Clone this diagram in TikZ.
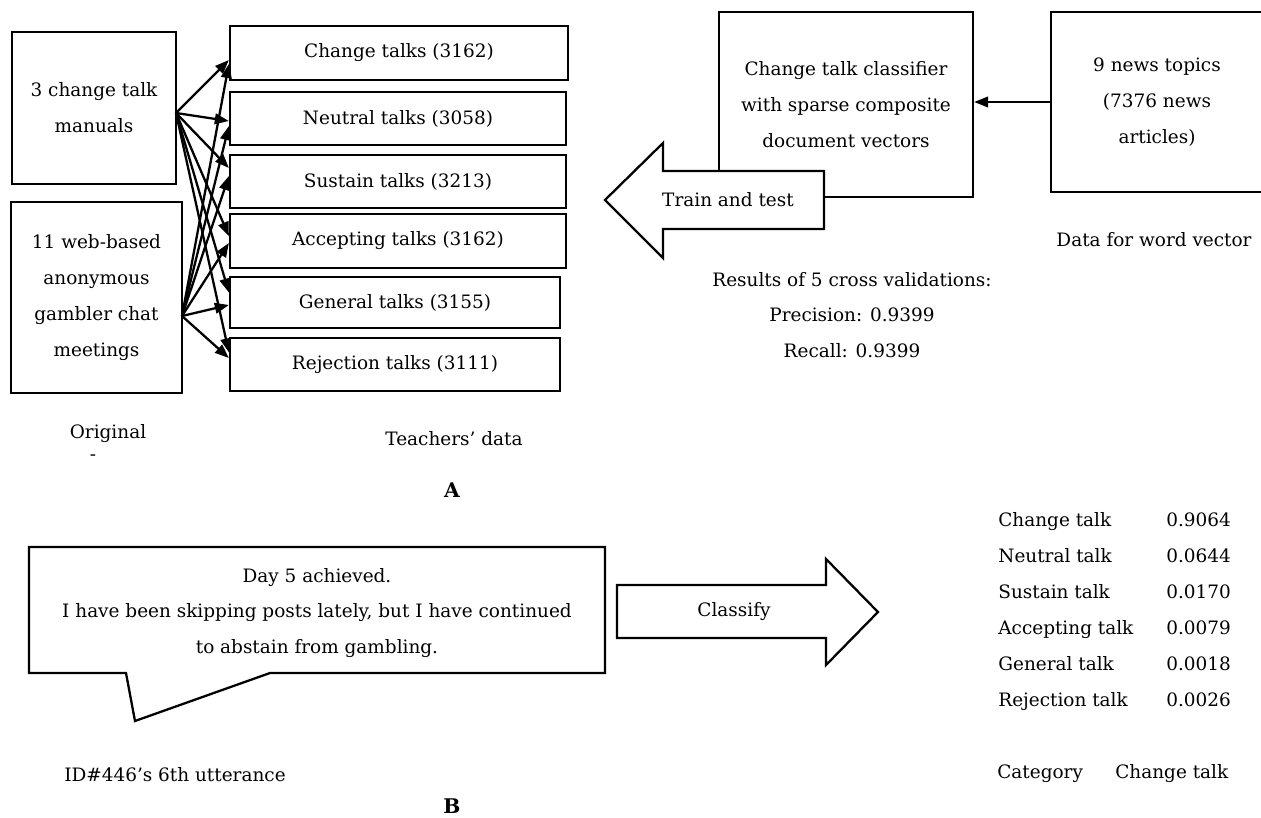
\documentclass[tikz,border=0pt]{standalone}
\usepackage{fontspec}
\setmainfont{DejaVu Serif}
\usetikzlibrary{arrows.meta, positioning, calc}

\begin{document}
\begin{tikzpicture}[
  x=0.02cm, y=-0.02cm,
  font=\fontsize{10.5}{20.4}\selectfont,
  box/.style={draw,line width=1.3pt,align=center,inner sep=0pt},
  lbl/.style={align=center,inner sep=0pt},
  row/.style={anchor=base west,inner sep=0pt},
  arrow/.style={-{Triangle[length=8pt,width=6pt]},line width=1.3pt},
  bigarrow/.style={draw,line width=1.3pt,fill=white,line join=miter}]
  \useasboundingbox (0,0) rectangle (1261,818);
  % part A: sources and teachers' data
  \node[box,minimum width=3.28cm,minimum height=3.04cm] (man) at (94,108) {3 change talk\\manuals};
  \node[box,minimum width=3.42cm,minimum height=3.82cm] (web) at (96.5,297.5) {11 web-based\\anonymous\\gambler chat\\meetings};
  \node[box,minimum width=6.76cm,minimum height=1.08cm] (ct) at (399,53) {Change talks (3162)};
  \node[box,minimum width=6.72cm,minimum height=1.06cm] (nt) at (398,118.5) {Neutral talks (3058)};
  \node[box,minimum width=6.72cm,minimum height=1.06cm] (st) at (398,181.5) {Sustain talks (3213)};
  \node[box,minimum width=6.72cm,minimum height=1.08cm] (at) at (398,241) {Accepting talks (3162)};
  \node[box,minimum width=6.6cm,minimum height=1.02cm] (gt) at (395,302.5) {General talks (3155)};
  \node[box,minimum width=6.6cm,minimum height=1.06cm] (rt) at (395,364.5) {Rejection talks (3111)};
  \coordinate (mo) at (176,113);
  \coordinate (wo) at (182,316);
  \draw[arrow] (mo) -- ([yshift=-0.14cm]ct.west);
  \draw[arrow] (mo) -- ([yshift=-0.05cm]nt.west);
  \draw[arrow] (mo) -- ([yshift=0.27cm]st.west);
  \draw[arrow] (mo) -- ([yshift=0.1cm]at.west);
  \draw[arrow] (mo) -- ([yshift=0.2cm]gt.west);
  \draw[arrow] (mo) -- ([yshift=0.24cm]rt.west);
  \draw[arrow] (wo) -- ([yshift=-0.22cm]ct.west);
  \draw[arrow] (wo) -- ([yshift=-0.15cm]nt.west);
  \draw[arrow] (wo) -- ([yshift=0.11cm]st.west);
  \draw[arrow] (wo) -- ([yshift=-0.04cm]at.west);
  \draw[arrow] (wo) -- ([yshift=-0.05cm]gt.west);
  \draw[arrow] (wo) -- ([yshift=0.13cm]rt.west);
  \node[lbl] (orig) at (108,434) {Original};
  \node[lbl] (dash) at (93,458) {-};
  \node[lbl] (teach) at (454,439) {Teachers' data};
  \node[lbl,font=\fontsize{11.5}{14}\selectfont\bfseries] (pa) at (452,490) {A};
  % classifier and word vector data
  \node[box,minimum width=5.08cm,minimum height=3.7cm] (clf) at (846,104.5) {Change talk classifier\\with sparse composite\\document vectors};
  \node[box,minimum width=4.24cm,minimum height=3.6cm] (news) at (1157,102) {9 news topics\\(7376 news\\articles)};
  \draw[arrow] (news.west) -- (news.west -| clf.east);
  \node[lbl] (wvec) at (1154,240) {Data for word vector};
  \draw[bigarrow] (605,200) -- (663,143) -- (663,171) -- (824,171) -- (824,229) -- (663,229) -- (663,258) -- cycle;
  \node[lbl] (train) at (728,200) {Train and test};
  \node[lbl] (res) at (852,315) {Results of 5 cross validations:\\Precision: 0.9399\\Recall: 0.9399};
  % part B: one utterance classified
  \draw[line width=1.3pt,line join=miter] (29,547) -- (605,547) -- (605,673) -- (270,673) -- (135,721) -- (126,673) -- (29,673) -- cycle;
  \node[lbl] (utt) at (317,613) {Day 5 achieved.\\I have been skipping posts lately, but I have continued\\to abstain from gambling.};
  \node[lbl] (uid) at (175,775) {ID\#446's 6th utterance};
  \draw[bigarrow] (617,585) -- (826,585) -- (826,559) -- (878,612) -- (826,665) -- (826,638) -- (617,638) -- cycle;
  \node[lbl] (cls) at (734,612) {Classify};
  \node[row] (n1) at (998,526) {Change talk};
  \node[row] (n2) at (998,562) {Neutral talk};
  \node[row] (n3) at (998,598) {Sustain talk};
  \node[row] (n4) at (998,634) {Accepting talk};
  \node[row] (n5) at (998,670) {General talk};
  \node[row] (n6) at (998,706) {Rejection talk};
  \node[row] (v1) at (1166,526) {0.9064};
  \node[row] (v2) at (1166,562) {0.0644};
  \node[row] (v3) at (1166,598) {0.0170};
  \node[row] (v4) at (1166,634) {0.0079};
  \node[row] (v5) at (1166,670) {0.0018};
  \node[row] (v6) at (1166,706) {0.0026};
  \node[row] (cat) at (997,778) {Category};
  \node[row] (catv) at (1115,778) {Change talk};
  \node[lbl,font=\fontsize{11.5}{14}\selectfont\bfseries] (pb) at (452,806) {B};
\end{tikzpicture}
\end{document}
